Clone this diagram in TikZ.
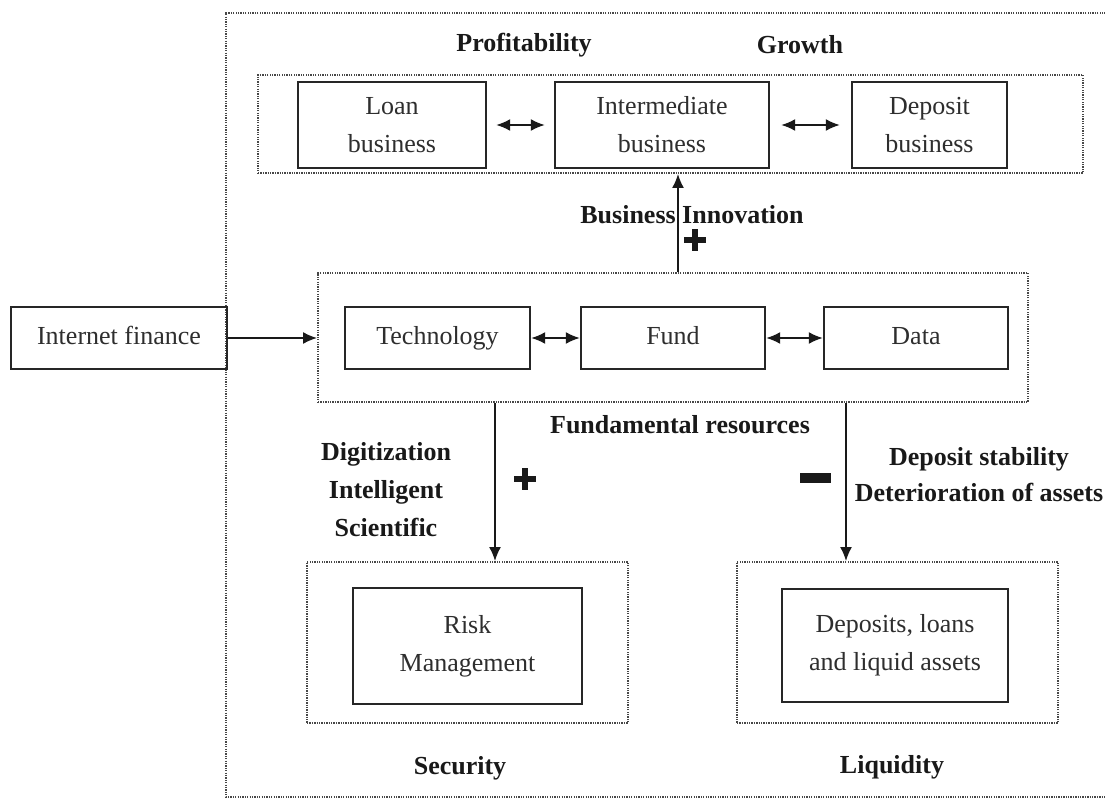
\documentclass[tikz,border=0pt]{standalone}
\usepackage{fontspec}
\setmainfont{Liberation Serif}
\usetikzlibrary{arrows.meta}
\begin{document}
\begin{tikzpicture}[x=1pt,y=-1pt,
  box/.style={draw=black!85, line width=2.4pt, rectangle, inner sep=0pt, align=center,
              font=\fontsize{26}{38}\selectfont, text=black!82},
  oneline/.style={text height=18pt, text depth=6pt},
  grp/.style={draw=black!72, line width=1.9pt, dash pattern=on 1.3pt off 1.1pt, rectangle, inner sep=0pt},
  lbl/.style={font=\bfseries\fontsize{26}{37}\selectfont, align=center, inner sep=0pt, text=black!90},
  arr/.style={-{Latex[length=14pt,width=12pt]}, line width=1.7pt, draw=black!90},
  darr/.style={{Latex[length=14pt,width=12pt]}-{Latex[length=14pt,width=12pt]}, line width=1.7pt, draw=black!90},
  sign/.style={line width=5.5pt, draw=black!90},
]
\clip (0,0) rectangle (1105,805);
\fill[white] (0,0) rectangle (1105,805);

% outer frame (its right side runs past the page edge)
\draw[grp] (1120,13) -- (226,13) -- (226,797) -- (1120,797);

% business layer
\node[lbl] (profit) at (524,45) {Profitability};
\node[lbl] (growth) at (800,45) {Growth};
\node[grp, minimum width=825pt, minimum height=98pt] (topgrp) at (670.5,124) {};
\node[box, minimum width=188pt, minimum height=86pt] (loan)  at (392,125)   {Loan\\business};
\node[box, minimum width=214pt, minimum height=86pt] (inter) at (662,125)   {Intermediate\\business};
\node[box, minimum width=155pt, minimum height=86pt] (depo)  at (929.5,125) {Deposit\\business};
\draw[darr, shorten <=9pt, shorten >=9pt] (loan) -- (inter);
\draw[darr, shorten <=11pt, shorten >=11pt] (inter) -- (depo);

% resource layer
\node[grp, minimum width=710pt, minimum height=129pt] (midgrp) at (673,337.5) {};
\node[box, oneline, minimum width=216pt, minimum height=62pt] (inet) at (119,338)   {Internet finance};
\node[box, oneline, minimum width=185pt, minimum height=62pt] (tech) at (437.5,338) {Technology};
\node[box, oneline, minimum width=184pt, minimum height=62pt] (fund) at (673,338)   {Fund};
\node[box, oneline, minimum width=184pt, minimum height=62pt] (data) at (916,338)   {Data};
\draw[darr] (tech) -- (fund);
\draw[darr] (fund) -- (data);
\draw[arr] (inet) -- (midgrp.west |- inet);
\node[lbl] (fundres) at (680,425) {Fundamental resources};

% upward link: business innovation
\coordinate (bix) at (678,0);
\draw[arr] (midgrp.north -| bix) -- (topgrp.south -| bix);
\node[lbl] (bi) at (692,215) {Business Innovation};
\draw[sign] (684,240) -- (706,240) (695,229) -- (695,251);

% outcome layer
\node[grp, minimum width=321pt, minimum height=161pt] (secgrp) at (467.5,642.5) {};
\node[grp, minimum width=321pt, minimum height=161pt] (liqgrp) at (897.5,642.5) {};
\node[box, minimum width=229pt, minimum height=116pt] (risk) at (467.5,646) {Risk\\Management};
\node[box, minimum width=226pt, minimum height=113pt] (liq)  at (895,645.5) {Deposits, loans\\and liquid assets};
\node[lbl] (sec) at (460,768) {Security};
\node[lbl] (liqu) at (892,767) {Liquidity};

% downward links
\coordinate (lx) at (495,0);
\coordinate (rx) at (846,0);
\draw[arr] (midgrp.south -| lx) -- (secgrp.north -| lx);
\draw[arr] (midgrp.south -| rx) -- (liqgrp.north -| rx);
\node[lbl, font=\bfseries\fontsize{26}{38}\selectfont] (digi) at (386,490) {Digitization\\Intelligent\\Scientific};
\draw[sign] (514,479) -- (536,479) (525,468) -- (525,490);
\fill[black!90] (800,473) rectangle (831,483);
\node[lbl, font=\bfseries\fontsize{26}{36}\selectfont] (dep) at (979,475) {Deposit stability\\Deterioration of assets};
\end{tikzpicture}
\end{document}
